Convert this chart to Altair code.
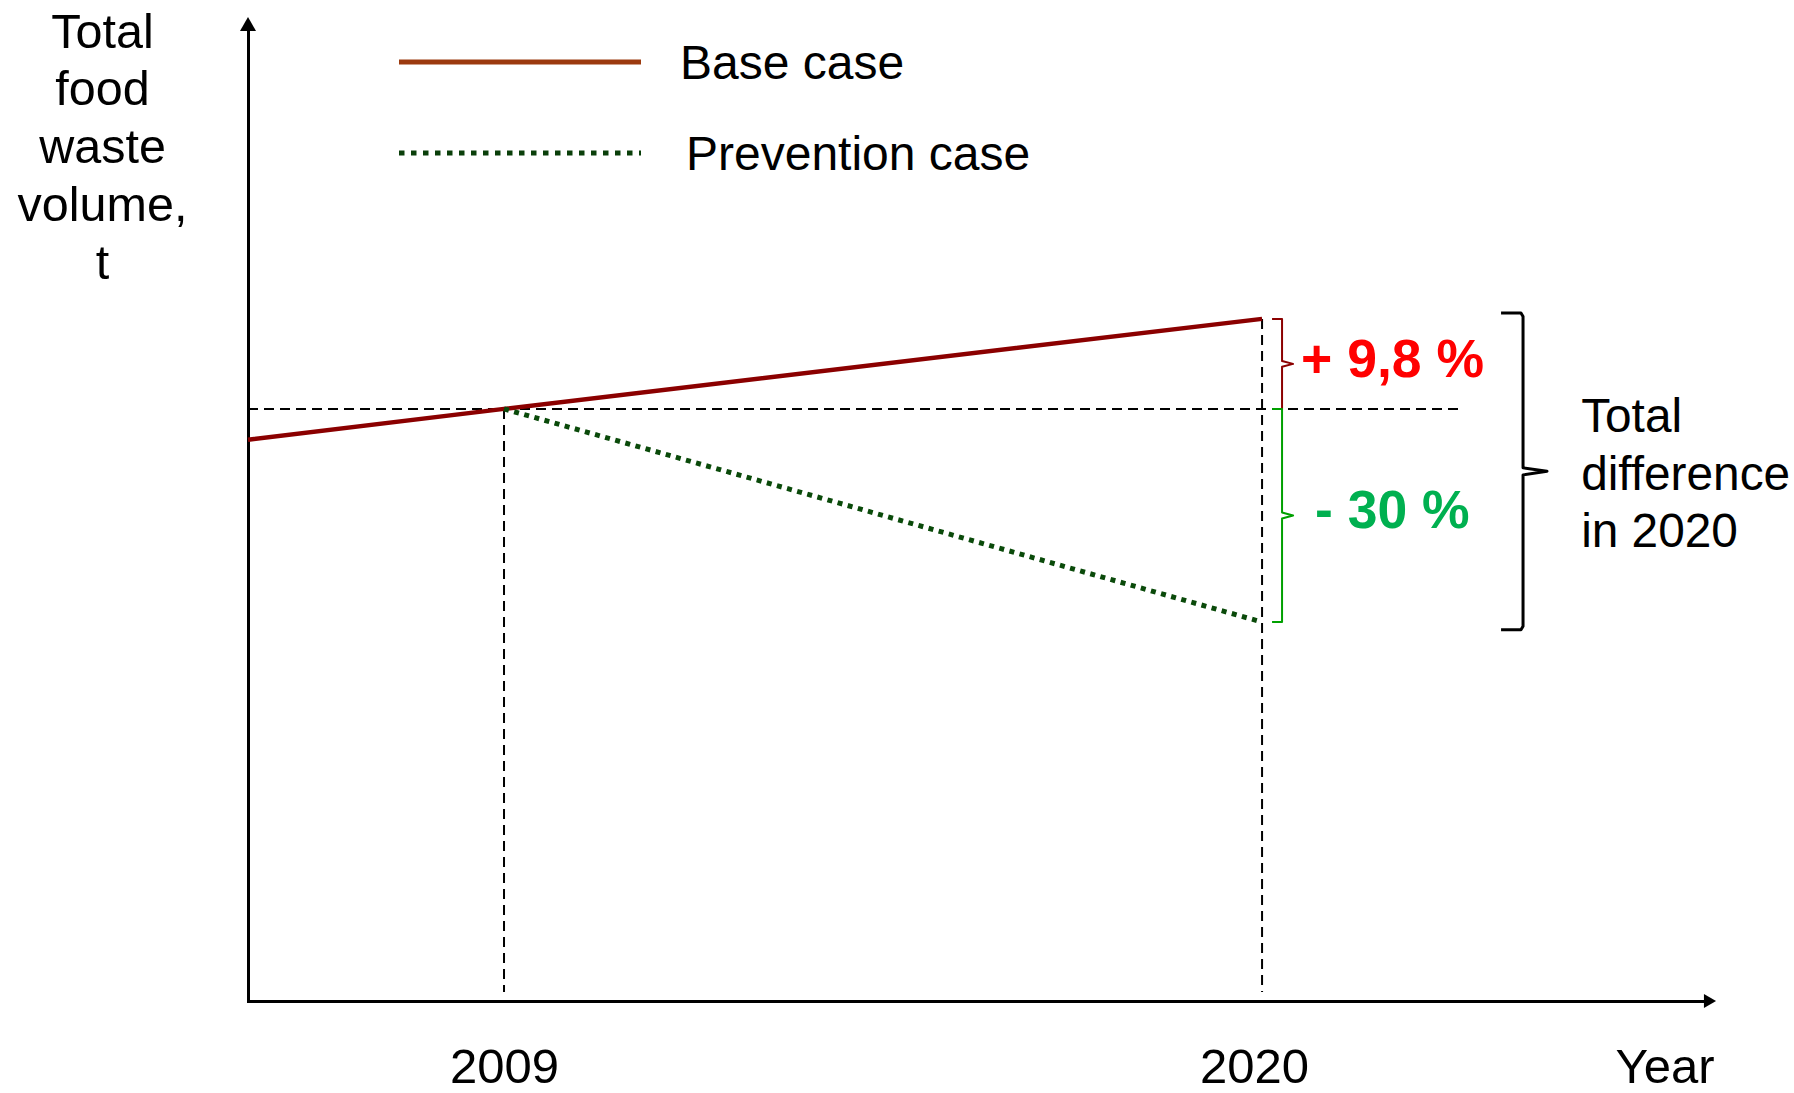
import altair as alt
import pandas as pd

# ---------------- data (index: 2009 level = 100) ----------------
axis_start_year = 2005.285      # where the year axis meets the volume axis
axis_end_year = 2026.5
value_max = 165.0

tick_years = [2009, 2020]
base_years = [axis_start_year, 2009, 2020]
base_values = [94.8, 100.0, 115.2]
prevention_years = [2009, 2020]
prevention_values = [100.0, 64.0]

series_names = ["Base case", "Prevention case"]
change_labels = ["+ 9,8 %", "- 30 %"]
y_title_lines = ["Total", "food", "waste", "volume,", "t"]
x_title = "Year"
difference_lines = ["Total", "difference", "in 2020"]

# ---------------- derived reference values ----------------
ref_value = base_values[1]
base_end = base_values[-1]
prev_end = prevention_values[-1]
up_mid = (ref_value + base_end) / 2
down_mid = (ref_value + prev_end) / 2
brace_top = base_end + 1.0
brace_bottom = prev_end - 1.3
brace_mid = (brace_top + brace_bottom) / 2

# annotation x positions (years, just right of 2020)
BR_A, BR_V, BR_T = 2020.145, 2020.29, 2020.45
BRACE_A, BRACE_V, BRACE_T = 2023.468, 2023.787, 2024.135
UP_TEXT_X, DOWN_TEXT_X = 2020.566, 2020.769
DIFF_TEXT_X = 2024.63
REF_LINE_END = 2022.86
DROP_END = 1.5

FONT = "Liberation Sans"
W, H = 1462, 977

XS = alt.Scale(domain=[axis_start_year, axis_end_year], nice=False, zero=False)
YS = alt.Scale(domain=[0, value_max], nice=False, zero=False)

X_AXIS = alt.Axis(
    values=tick_years, format="d", title=x_title, ticks=False, tickSize=0, grid=False,
    domain=True, domainColor="black", domainWidth=3, domainCap="square",
    labelFontSize=49, labelFont=FONT, labelColor="black", labelBaseline="alphabetic",
    labelPadding=81, labelFlush=False, labelOverlap=False,
    labelOffset={"condition": {"test": "datum.value == 2020", "value": -8}, "value": 0},
    titleFontSize=49, titleFont=FONT, titleFontWeight="normal", titleColor="black",
    titleX=1466, titleY=81, titleAlign="right", titleBaseline="alphabetic", titleAngle=0,
)
Y_AXIS = alt.Axis(
    values=[0], labels=False, ticks=False, tickSize=0, grid=False,
    domain=True, domainColor="black", domainWidth=3, domainCap="square",
    title=y_title_lines, titleFontSize=48.5, titleFont=FONT, titleFontWeight="normal",
    titleColor="black", titleAngle=0, titleAlign="center", titleBaseline="alphabetic",
    titleX=-146, titleY=23, titleLineHeight=57.75,
)


def xq(field):
    return alt.X(f"{field}:Q", scale=XS, axis=X_AXIS)


def yq(field):
    return alt.Y(f"{field}:Q", scale=YS, axis=Y_AXIS)


# dashed guide lines
guides = pd.DataFrame({
    "x": [axis_start_year, tick_years[0], tick_years[1]],
    "x2": [REF_LINE_END, tick_years[0], tick_years[1]],
    "y": [ref_value, ref_value, base_end],
    "y2": [ref_value, DROP_END, DROP_END],
})
guide_layer = alt.Chart(guides).mark_rule(
    color="black", strokeWidth=2, strokeDash=[10, 6]
).encode(x=xq("x"), x2="x2:Q", y=yq("y"), y2="y2:Q")

base_df = pd.DataFrame({"year": base_years, "value": base_values})
base_layer = alt.Chart(base_df).mark_line(color="#8B0000", strokeWidth=4.5).encode(
    x=xq("year"), y=yq("value"))

prev_df = pd.DataFrame({"year": prevention_years, "value": prevention_values})
prev_layer = alt.Chart(prev_df).mark_line(
    color="#0A4A0A", strokeWidth=5, strokeDash=[5, 5.5]).encode(
    x=xq("year"), y=yq("value"))

# small brackets
d = 0.5
small_rows = []
red_pts = [(BR_A, base_end), (BR_V, base_end), (BR_V, up_mid + d), (BR_T, up_mid),
           (BR_V, up_mid - d), (BR_V, ref_value)]
green_pts = [(BR_A, ref_value), (BR_V, ref_value), (BR_V, down_mid + d), (BR_T, down_mid),
             (BR_V, down_mid - d), (BR_V, prev_end), (BR_A, prev_end)]
for i, (x, y) in enumerate(red_pts):
    small_rows.append({"g": "up", "o": i, "x": x, "y": y, "c": "#8B0000"})
for i, (x, y) in enumerate(green_pts):
    small_rows.append({"g": "down", "o": i, "x": x, "y": y, "c": "#00A000"})
small_layer = alt.Chart(pd.DataFrame(small_rows)).mark_line(
    strokeWidth=2, strokeJoin="round").encode(
    x=xq("x"), y=yq("y"), detail="g:N", order="o:Q", color=alt.Color("c:N", scale=None))

brace_pts = [(BRACE_A, brace_top), (BRACE_V - 0.03, brace_top), (BRACE_V, brace_top - 0.6),
             (BRACE_V, brace_mid + 0.6), (BRACE_T, brace_mid), (BRACE_V, brace_mid - 0.6),
             (BRACE_V, brace_bottom + 0.6), (BRACE_V - 0.03, brace_bottom),
             (BRACE_A, brace_bottom)]
brace_df = pd.DataFrame({"o": list(range(len(brace_pts))),
                         "x": [p[0] for p in brace_pts], "y": [p[1] for p in brace_pts]})
brace_layer = alt.Chart(brace_df).mark_line(
    color="black", strokeWidth=3, strokeJoin="round").encode(
    x=xq("x"), y=yq("y"), order="o:Q")

change_df = pd.DataFrame({"x": [UP_TEXT_X, DOWN_TEXT_X], "y": [up_mid, down_mid],
                          "t": change_labels, "c": ["#FF0000", "#00B050"]})
change_layer = alt.Chart(change_df).mark_text(
    align="left", baseline="middle", fontSize=53.5, fontWeight="bold", font=FONT, dy=-3).encode(
    x=xq("x"), y=yq("y"), text="t:N", color=alt.Color("c:N", scale=None))

diff_df = pd.DataFrame({"x": [DIFF_TEXT_X], "y": [brace_mid]})
diff_layer = alt.Chart(diff_df).mark_text(
    align="left", baseline="alphabetic", fontSize=47.8, font=FONT, color="black",
    lineHeight=57.5, dy=-39, text=difference_lines).encode(x=xq("x"), y=yq("y"))

one = pd.DataFrame({"k": [0]})
leg_base = alt.Chart(one).mark_rule(color="#9C3A0F", strokeWidth=5).encode(
    x=alt.value(151), x2=alt.value(393), y=alt.value(38))
leg_prev = alt.Chart(one).mark_rule(color="#0A3F0A", strokeWidth=5, strokeDash=[5.5, 6.5]).encode(
    x=alt.value(151), x2=alt.value(393), y=alt.value(129))
leg_t1 = alt.Chart(one).mark_text(align="left", baseline="alphabetic", fontSize=48, font=FONT,
                                  color="black", text=series_names[0]).encode(
    x=alt.value(432), y=alt.value(55))
leg_t2 = alt.Chart(one).mark_text(align="left", baseline="alphabetic", fontSize=48, font=FONT,
                                  color="black", text=series_names[1]).encode(
    x=alt.value(438), y=alt.value(146))

arrow_up = alt.Chart(one).mark_point(shape="triangle-up", filled=True, size=256,
                                     color="black", opacity=1).encode(
    x=alt.value(0), y=alt.value(0))
arrow_right = alt.Chart(one).mark_point(shape="triangle-right", filled=True, size=196,
                                        color="black", opacity=1).encode(
    x=alt.value(W), y=alt.value(H))

chart = alt.layer(
    guide_layer, base_layer, prev_layer, small_layer, brace_layer,
    change_layer, diff_layer, leg_base, leg_prev, leg_t1, leg_t2, arrow_up, arrow_right,
).properties(
    width=W, height=H,
    autosize=alt.AutoSizeParams(type="none"),
    padding={"left": 248, "top": 24, "right": 84, "bottom": 92},
).configure(background="white", font=FONT).configure_view(strokeWidth=0, stroke="transparent")

chart.save("out.html", embed_options={"renderer": "svg", "actions": False})
